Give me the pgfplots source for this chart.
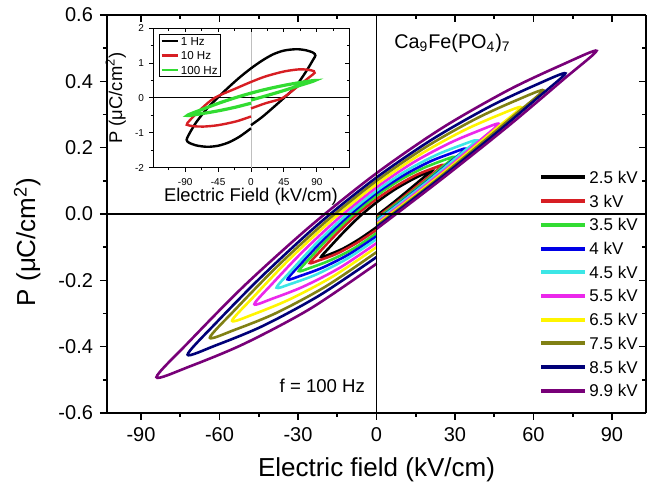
\documentclass[border=0pt]{standalone}
\usepackage{fontspec}
\setmainfont{Liberation Sans}
\usepackage{pgfplots}
\pgfplotsset{compat=1.18}

\definecolor{cRed}{RGB}{215,30,35}
\definecolor{cGreen}{RGB}{50,220,50}
\definecolor{cBlue}{RGB}{0,0,230}
\definecolor{cCyan}{RGB}{60,230,230}
\definecolor{cMag}{RGB}{235,40,235}
\definecolor{cYel}{RGB}{255,245,0}
\definecolor{cOlive}{RGB}{128,128,20}
\definecolor{cNavy}{RGB}{0,0,120}
\definecolor{cPurp}{RGB}{120,0,120}

\pgfplotsset{
  frame/.style={
    scale only axis, axis line style={-, line width=0.8pt},
    every tick/.style={black, line width=0.8pt},
    /pgf/number format/assume math mode=true,
  },
  mainbox/.style={
    frame, at={(0,0)}, anchor=south west,
    width=269.5pt, height=199pt,
    xmin=-103, xmax=103, ymin=-0.6, ymax=0.6,
    xtick={-90,-60,-30,0,30,60,90}, minor xtick={-75,-45,-15,15,45,75},
    ytick={-0.6,-0.4,-0.2,0,0.2,0.4,0.6}, minor ytick={-0.5,-0.3,-0.1,0.1,0.3,0.5},
    major tick length=3.5pt, minor tick length=2pt,
  },
  insetbox/.style={
    frame, at={(23pt,122.65pt)}, anchor=south west,
    width=98pt, height=69.7pt,
    xmin=-134, xmax=134, ymin=-2, ymax=2,
    xtick={-90,-45,0,45,90}, minor xtick={-112.5,-67.5,-22.5,22.5,67.5,112.5},
    ytick={-2,-1,0,1,2}, minor ytick={-1.5,-0.5,0.5,1.5},
    major tick length=2pt, minor tick length=1.2pt,
    every tick/.style={black, line width=0.5pt},
    axis line style={-, line width=0.5pt},
  },
}

\begin{document}
\begin{tikzpicture}
% main plot, bottom and left axes
\begin{axis}[
  mainbox,
  axis x line*=bottom, axis y line*=left, tick align=outside,
  tick label style={font=\fontsize{10}{12}\selectfont},
  yticklabel style={/pgf/number format/.cd, fixed, fixed zerofill, precision=1},
  xlabel={Electric field (kV/cm)},
  ylabel={P (μC/cm\textsuperscript{2})},
  label style={font=\fontsize{13}{15}\selectfont},
  xlabel style={at={(axis description cs:0.5,-0.143)}, anchor=center},
  ylabel style={at={(axis description cs:-0.148,0.43)}, anchor=center, rotate=0},
  legend cell align=left,
  legend style={draw=none, fill=none, at={(rel axis cs:0.8015,0.613)}, anchor=north west,
    inner sep=0pt, row sep=3.85pt, font=\fontsize{8.5}{10}\selectfont,
    nodes={inner sep=1pt, text height=6pt, text depth=0pt}},
  legend image code/.code={\draw[#1, line width=2pt] (0pt,0pt) -- (22pt,0pt);},
  every axis plot/.append style={line width=1.3pt, smooth},
]
\addplot[black] coordinates {(0,-0.005) (6.4,0.034) (12.7,0.075) (18.0,0.110) (21.2,0.130) (18.0,0.121) (12.7,0.100) (6.4,0.071) (0,0.035) (-6.4,-0.007) (-12.7,-0.056) (-18.0,-0.101) (-21.2,-0.130) (-18.0,-0.122) (-12.7,-0.104) (-6.4,-0.075) (0,-0.040)};
\addlegendentry{2.5 kV}
\addplot[cRed] coordinates {(0,-0.010) (7.7,0.035) (15.3,0.083) (21.7,0.123) (25.5,0.148) (21.7,0.138) (15.3,0.118) (7.7,0.085) (0,0.045) (-7.7,-0.003) (-15.3,-0.060) (-21.7,-0.114) (-25.5,-0.148) (-21.7,-0.139) (-15.3,-0.120) (-7.7,-0.088) (0,-0.048)};
\addlegendentry{3 kV}
\addplot[cGreen] coordinates {(0,-0.015) (8.9,0.038) (17.8,0.093) (25.2,0.142) (29.7,0.172) (25.2,0.161) (17.8,0.138) (8.9,0.102) (0,0.055) (-8.9,-0.002) (-17.8,-0.068) (-25.2,-0.131) (-29.7,-0.172) (-25.2,-0.162) (-17.8,-0.140) (-8.9,-0.105) (0,-0.058)};
\addlegendentry{3.5 kV}
\addplot[cBlue] coordinates {(0,-0.020) (10.2,0.041) (20.4,0.105) (28.9,0.161) (34,0.197) (28.9,0.184) (20.4,0.158) (10.2,0.116) (0,0.063) (-10.2,-0.002) (-20.4,-0.078) (-28.9,-0.150) (-34,-0.197) (-28.9,-0.186) (-20.4,-0.161) (-10.2,-0.120) (0,-0.067)};
\addlegendentry{4 kV}
\addplot[cCyan] coordinates {(0,-0.022) (11.5,0.047) (22.9,0.119) (32.5,0.183) (38.2,0.222) (32.5,0.208) (22.9,0.178) (11.5,0.131) (0,0.070) (-11.5,-0.003) (-22.9,-0.088) (-32.5,-0.170) (-38.2,-0.222) (-32.5,-0.210) (-22.9,-0.182) (-11.5,-0.136) (0,-0.076)};
\addlegendentry{4.5 kV}
\addplot[cMag] coordinates {(0,-0.028) (14.0,0.057) (28.0,0.145) (39.7,0.223) (46.7,0.272) (39.7,0.253) (28.0,0.214) (14.0,0.155) (0,0.080) (-14.0,-0.009) (-28.0,-0.112) (-39.7,-0.209) (-46.7,-0.272) (-39.7,-0.255) (-28.0,-0.219) (-14.0,-0.162) (0,-0.088)};
\addlegendentry{5.5 kV}
\addplot[cYel] coordinates {(0,-0.032) (16.6,0.068) (33.1,0.173) (46.9,0.265) (55.2,0.322) (46.9,0.299) (33.1,0.251) (16.6,0.179) (0,0.090) (-16.6,-0.015) (-33.1,-0.135) (-46.9,-0.249) (-55.2,-0.322) (-46.9,-0.302) (-33.1,-0.257) (-16.6,-0.188) (0,-0.100)};
\addlegendentry{6.5 kV}
\addplot[cOlive] coordinates {(0,-0.036) (19.1,0.079) (38.2,0.201) (54.1,0.307) (63.7,0.373) (54.1,0.345) (38.2,0.288) (19.1,0.203) (0,0.100) (-19.1,-0.021) (-38.2,-0.160) (-54.1,-0.289) (-63.7,-0.373) (-54.1,-0.349) (-38.2,-0.298) (-19.1,-0.217) (0,-0.115)};
\addlegendentry{7.5 kV}
\addplot[cNavy] coordinates {(0,-0.040) (21.7,0.091) (43.3,0.228) (61.4,0.349) (72.2,0.424) (61.4,0.391) (43.3,0.324) (21.7,0.227) (0,0.110) (-21.7,-0.027) (-43.3,-0.184) (-61.4,-0.329) (-72.2,-0.424) (-61.4,-0.396) (-43.3,-0.337) (-21.7,-0.245) (0,-0.130)};
\addlegendentry{8.5 kV}
\addplot[cPurp] coordinates {(0,-0.045) (25.2,0.107) (50.5,0.266) (71.5,0.406) (84.1,0.492) (71.5,0.452) (50.5,0.374) (25.2,0.260) (0,0.123) (-25.2,-0.036) (-50.5,-0.216) (-71.5,-0.384) (-84.1,-0.492) (-71.5,-0.460) (-50.5,-0.391) (-25.2,-0.285) (0,-0.150)};
\addlegendentry{9.9 kV}
\draw[line width=0.8pt] (axis cs:0,-0.6) -- (axis cs:0,0.6);
\draw[line width=0.8pt] (axis cs:-103,0) -- (axis cs:103,0);
\node[anchor=base west, font=\fontsize{9.9}{12}\selectfont] at (axis cs:4.1,0.498) {Ca\textsubscript{9}Fe(PO\textsubscript{4})\textsubscript{7}};
\node[anchor=center, font=\fontsize{9.3}{11}\selectfont] at (axis cs:-20.7,-0.517) {f = 100 Hz};
\end{axis}
% main plot, top and right axes
\begin{axis}[
  mainbox,
  axis x line*=top, axis y line*=right, tick align=inside,
  xticklabels={}, yticklabels={},
]
\end{axis}

% inset, bottom and left axes
\begin{axis}[
  insetbox,
  axis x line*=bottom, axis y line*=left, tick align=outside,
  tick label style={font=\fontsize{5}{6}\selectfont},
  yticklabel style={xshift=1pt},
  xlabel={Electric Field (kV/cm)},
  ylabel={P (μC/cm\textsuperscript{2})},
  label style={font=\fontsize{9.2}{11}\selectfont},
  xlabel style={at={(axis description cs:0.5,-0.205)}, anchor=center},
  ylabel style={at={(axis description cs:-0.19,0.5)}, anchor=center},
  legend cell align=left,
  legend style={draw=black, line width=0.4pt, fill=white, at={(rel axis cs:0.031,0.959)}, anchor=north west,
    inner sep=0.5pt, row sep=1.6pt, font=\fontsize{5.8}{7}\selectfont,
    nodes={inner sep=0.7pt, text height=4.2pt, text depth=0pt}},
  legend image code/.code={\draw[#1, line width=1.2pt] (0pt,0pt) -- (8.3pt,0pt);},
  every axis plot/.append style={line width=1.2pt, smooth},
]
\draw[line width=0.4pt, black!25] (axis cs:0,-2) -- (axis cs:0,2);
\draw[line width=0.5pt] (axis cs:-134,0) -- (axis cs:134,0);
\addplot[black] coordinates {(0,-0.78) (15,-0.55) (30,-0.28) (45,0) (60,0.3) (75,0.75) (85,1.1) (88,1.22) (85,1.3) (75,1.37) (62,1.40) (45,1.36) (30,1.25) (15,1.07) (0,0.85) (-15,0.6) (-30,0.32) (-45,0.02) (-60,-0.3) (-75,-0.7) (-85,-1.05) (-88,-1.2) (-85,-1.28) (-75,-1.36) (-60,-1.40) (-45,-1.37) (-30,-1.27) (-15,-1.1) (0,-0.87)};
\addlegendentry{1 Hz}
\addplot[cRed] coordinates {(0,-0.30) (20,-0.15) (43,0) (65,0.35) (80,0.6) (87,0.72) (86,0.77) (78,0.81) (65,0.82) (45,0.76) (20,0.62) (0,0.46) (-20,0.28) (-50,0) (-70,-0.35) (-87,-0.72) (-86,-0.78) (-78,-0.81) (-65,-0.82) (-45,-0.78) (-20,-0.67) (0,-0.53)};
\addlegendentry{10 Hz}
\addplot[cGreen, line width=1.6pt] coordinates {(0,-0.06) (21.75,0.069) (43.5,0.205) (65,0.349) (87,0.50) (65,0.436) (43.5,0.355) (21.75,0.256) (0,0.14) (-21.75,0.006) (-43.5,-0.145) (-65,-0.314) (-87,-0.50) (-65,-0.441) (-43.5,-0.363) (-21.75,-0.266) (0,-0.15)};
\addlegendentry{100 Hz}
\end{axis}
% inset, top and right axes
\begin{axis}[
  insetbox,
  axis x line*=top, axis y line*=right, tick align=inside,
  xticklabels={}, yticklabels={},
]
\end{axis}

\pgfresetboundingbox
\path (-53.5pt,-36.5pt) rectangle ++(326pt,243pt);
\end{tikzpicture}
\end{document}
